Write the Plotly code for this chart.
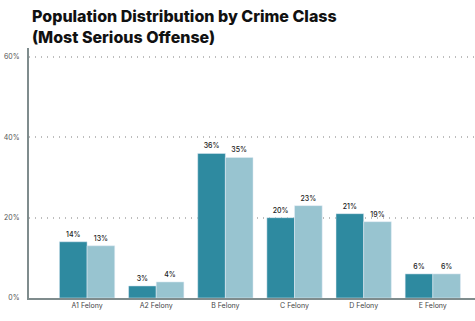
import plotly.graph_objects as go

categories = ["A1 Felony", "A2 Felony", "B Felony", "C Felony", "D Felony", "E Felony"]
series_a = [14, 3, 36, 20, 21, 6]
series_b = [13, 4, 35, 23, 19, 6]
tick_vals = [0, 20, 40, 60]
tick_text = ["0%", "20%", "40%", "60%"]

label_font = dict(family="Inter, Roboto, sans-serif", size=7, color="#222222", weight=500)

fig = go.Figure()
fig.add_trace(go.Bar(
    x=categories, y=series_a, marker_color="#2E8AA0",
    text=[f"{v}%" for v in series_a], textposition="outside",
    textfont=label_font, cliponaxis=False, showlegend=False,
))
fig.add_trace(go.Bar(
    x=categories, y=series_b, marker_color="#98C4D0",
    text=[f"{v}%" for v in series_b], textposition="outside",
    textfont=label_font, cliponaxis=False, showlegend=False,
))

# Two-line heading placed above the plot area
fig.add_annotation(
    text="Population Distribution by Crime Class<br>(Most Serious Offense)",
    xref="paper", yref="paper", x=1 / 446, y=1 + 44 / 250,
    xanchor="left", yanchor="top", align="left", showarrow=False,
    font=dict(family="Inter, Roboto, sans-serif", size=16, color="#111111", weight=800),
)

fig.update_layout(
    width=475, height=321,
    margin=dict(l=29, r=0, t=48, b=23),
    paper_bgcolor="white", plot_bgcolor="white",
    barmode="group", bargap=0.2, bargroupgap=0,
    uniformtext=dict(minsize=7, mode="show"),
    xaxis=dict(
        range=[-0.84, 5.61], showgrid=False, ticks="",
        showline=True, linecolor="#7F8C8D", linewidth=2,
        tickfont=dict(family="Inter, Roboto, sans-serif", size=7, color="#444444"),
    ),
    yaxis=dict(
        range=[0, 62.25], tickvals=tick_vals, ticktext=tick_text,
        showline=True, linecolor="#7F8C8D", linewidth=2,
        showgrid=True, gridcolor="#BDBDBD", griddash="1px,5px", gridwidth=1.5,
        zeroline=False, ticks="", ticklabelstandoff=6,
        tickfont=dict(family="Inter, Roboto, sans-serif", size=7, color="#555555"),
    ),
)

fig.write_html("out.html")
